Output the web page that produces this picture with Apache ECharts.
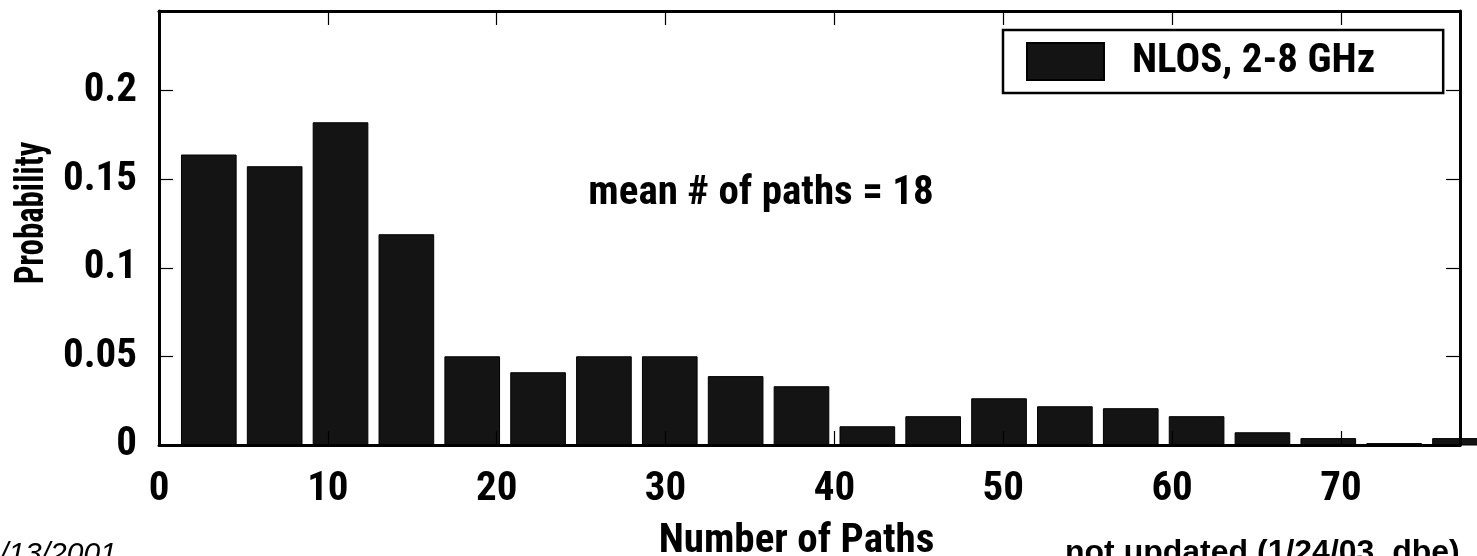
<!DOCTYPE html>
<html>
<head>
<meta charset="utf-8">
<title>Number of Paths histogram</title>
<script src="https://cdn.jsdelivr.net/npm/echarts@6/dist/echarts.min.js"></script>
<style>
  html, body { margin: 0; padding: 0; background: #ffffff; }
  #chart { width: 1477px; height: 556px; }
</style>
</head>
<body>
<div id="chart"></div>
<script>
// Histogram bin centres (number of paths) and the probability in each bin
const binCenters = [2.95, 6.85, 10.75, 14.65, 18.55, 22.45, 26.35, 30.25, 34.15, 38.05,
                    41.95, 45.85, 49.75, 53.65, 57.55, 61.45, 65.35, 69.25, 73.15, 77.05];
const probabilities = [0.1637, 0.1571, 0.1819, 0.1187, 0.0498, 0.0408, 0.0498, 0.0498, 0.0386, 0.0329,
                       0.0103, 0.0160, 0.0261, 0.0216, 0.0205, 0.0160, 0.0069, 0.0036, 0.0008, 0.0036];
const binWidth = 3.9;          // spacing between bin centres
const seriesName = 'NLOS, 2-8 GHz';
const meanLabel = 'mean # of paths = 18';
const xTitle = 'Number of Paths';
const yTitle = 'Probability';
const dateNote = '/13/2001';
const updateNote = 'not updated (1/24/03, dbe)';

const X_MAX = 77.05, Y_MAX = 0.245;
const NARROW = '"Roboto Condensed", Roboto, "DejaVu Sans Condensed", sans-serif';
const PLAIN = '"Liberation Sans", Arial, sans-serif';
const BAR_FILL = '#141414';
const FS = 41;

const chart = echarts.init(document.getElementById('chart'), null, { renderer: 'canvas' });

const barData = binCenters.map((c, i) => [c, probabilities[i]]);

const axisCommon = {
  axisLine: { show: true, onZero: false, lineStyle: { color: '#000', width: 3 } },
  axisTick: { show: true, inside: true, length: 14, lineStyle: { color: '#000', width: 1.2 } },
  splitLine: { show: false },
  z: 5
};

function yFmt(v) {
  const k = v / 0.05;
  if (Math.abs(k - Math.round(k)) > 1e-6) return '';
  return String(+v.toFixed(2));
}
function xFmt(v) {
  const k = v / 10;
  if (Math.abs(k - Math.round(k)) > 1e-6) return '';
  return String(Math.round(v));
}

const option = {
  backgroundColor: '#ffffff',
  animation: false,
  grid: { left: 159, right: 17, top: 11, bottom: 111, containLabel: false, outerBoundsMode: 'none' },
  legend: {
    show: true,
    left: 1003,
    top: 30,
    orient: 'horizontal',
    backgroundColor: '#ffffff',
    borderColor: '#000',
    borderWidth: 2.5,
    borderRadius: 0,
    padding: [11, 68, 11, 23],
    itemWidth: 77,
    itemHeight: 37,
    selectedMode: false,
    data: [{ name: seriesName, icon: 'rect' }],
    textStyle: { fontFamily: NARROW, fontWeight: 'bold', fontSize: FS, lineHeight: 37, color: '#000',
                 padding: [0, 0, 0, 23] }
  },
  xAxis: [
    Object.assign({}, axisCommon, {
      type: 'value', position: 'bottom', min: 0, max: X_MAX, interval: 10,
      axisLabel: { show: true, formatter: xFmt, showMaxLabel: false, margin: 24,
        fontFamily: NARROW, fontWeight: 'bold', fontSize: FS, color: '#000' },
      name: xTitle, nameLocation: 'middle', nameGap: 76,
      nameTextStyle: { fontFamily: NARROW, fontWeight: 'bold', fontSize: FS, color: '#000', padding: [0, 26, 0, 0] }
    }),
    Object.assign({}, axisCommon, {
      type: 'value', position: 'top', min: 0, max: X_MAX, interval: 10,
      axisLabel: { show: false }
    })
  ],
  yAxis: [
    Object.assign({}, axisCommon, {
      type: 'value', position: 'left', min: 0, max: Y_MAX, interval: 0.05,
      axisLabel: { show: true, formatter: yFmt, showMaxLabel: false, margin: 22,
        padding: [9, 0, 0, 0],
        fontFamily: NARROW, fontWeight: 'bold', fontSize: FS, color: '#000' }
    }),
    Object.assign({}, axisCommon, {
      type: 'value', position: 'right', min: 0, max: Y_MAX, interval: 0.05,
      axisLabel: { show: false }
    })
  ],
  series: [{
    name: seriesName,
    type: 'custom',
    xAxisIndex: 0,
    yAxisIndex: 0,
    clip: false,
    z: 2,
    itemStyle: { color: BAR_FILL, borderColor: '#000', borderWidth: 1 },
    encode: { x: 0, y: 1 },
    data: barData,
    renderItem: function (params, api) {
      const c = api.value(0), v = api.value(1);
      const half = binWidth * 0.83 / 2;
      const p0 = api.coord([c - half, v]);
      const p1 = api.coord([c + half, 0]);
      return {
        type: 'rect',
        shape: { x: p0[0], y: p0[1], width: p1[0] - p0[0], height: p1[1] - p0[1] },
        style: { fill: BAR_FILL, stroke: '#000', lineWidth: 1 }
      };
    }
  }],
  graphic: [
    {
      type: 'text', x: 761, y: 194, z: 10,
      style: { text: meanLabel, fontFamily: NARROW, fontWeight: 'bold', fontSize: FS, fill: '#000',
               align: 'center', verticalAlign: 'middle' }
    },
    {
      type: 'text', x: 33, y: 213, rotation: Math.PI / 2, scaleX: 0.8, z: 10,
      style: { text: yTitle, fontFamily: NARROW, fontWeight: 'bold', fontSize: FS, fill: '#000',
               align: 'center', verticalAlign: 'middle' }
    },
    {
      type: 'text', x: 0, y: 555, z: 10,
      style: { text: dateNote, fontFamily: PLAIN, fontStyle: 'italic', fontSize: 30, fill: '#000',
               align: 'left', verticalAlign: 'middle' }
    },
    {
      type: 'text', x: 1065, y: 553.5, z: 10,
      style: { text: updateNote, fontFamily: PLAIN, fontWeight: 'bold', fontSize: 32, fill: '#000',
               align: 'left', verticalAlign: 'middle' }
    }
  ]
};

chart.setOption(option);
</script>
</body>
</html>
